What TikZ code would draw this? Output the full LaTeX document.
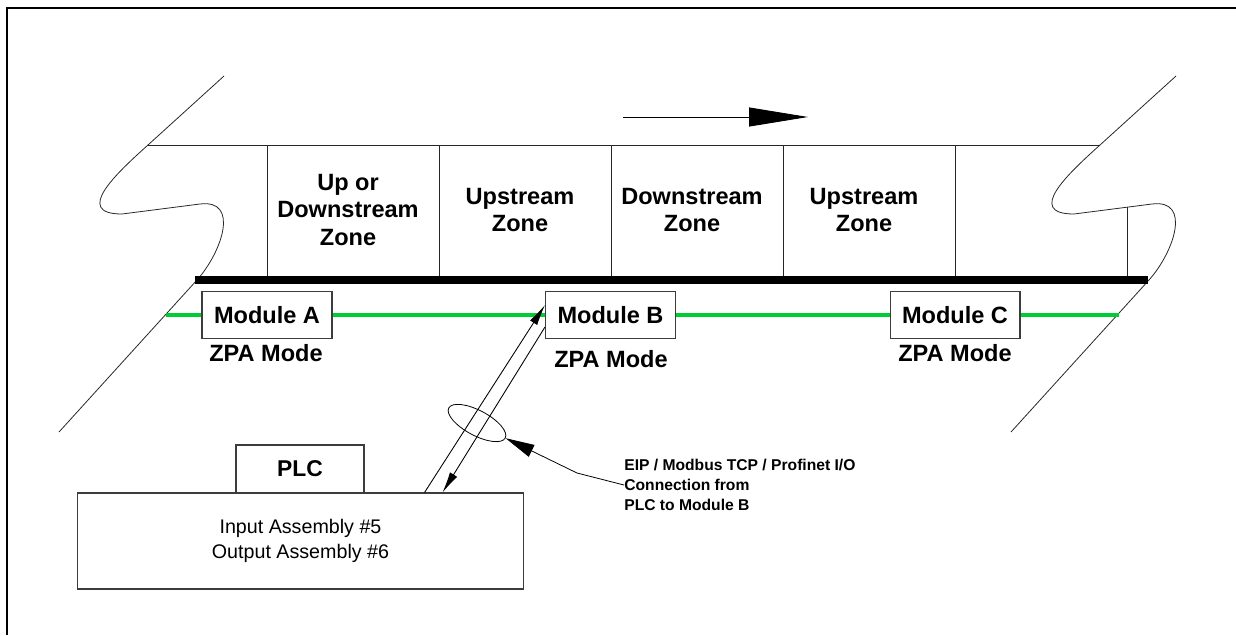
\documentclass[tikz,border=0pt]{standalone}
\usepackage{fontspec}
\setmainfont{Liberation Sans}
\usetikzlibrary{arrows.meta, shapes.geometric, calc}
\definecolor{wire}{HTML}{00CC33}
\definecolor{edge}{HTML}{3C3C3C}
\tikzset{
  >=Latex,
  box/.style={
    draw=edge, fill=white, line width=0.6pt, inner sep=0pt
  },
  module/.style={
    box, minimum width=2.6cm, minimum height=0.94cm,
    font=\fontsize{13.4}{16}\selectfont\bfseries
  },
  zone/.style={align=center, font=\fontsize{13.4}{15.9}\selectfont\bfseries},
  mode/.style={font=\fontsize{13.4}{16}\selectfont\bfseries},
  rail/.style={line width=0.45pt, draw=black!85},
  bus/.style={line width=2.2pt, draw=wire},
  bar/.style={line width=4.8pt, line cap=butt},
  link/.style={line width=0.5pt, -{Latex[length=4.2mm,width=1.7mm]}},
  callout/.style={line width=0.45pt, -{Triangle[length=5.8mm,width=2.6mm]}},
  note/.style={align=left, inner sep=0pt, font=\fontsize{8.9}{11.4}\selectfont\bfseries}
}

\begin{document}
\begin{tikzpicture}[x=0.02cm, y=-0.02cm]
  \useasboundingbox (0,0) rectangle (1236,635);
  \draw[line width=1.4pt] (7,635) -- (7,8) -- (1236,8);

  % conveyor ends
  \draw[rail] (224,76) -- (148,145) .. controls (118,172) and (72,214) .. (122,214)
    -- (200,204) .. controls (240,199) and (222,252) .. (197,280) -- (59,432);
  \draw[rail, shift={(952,0)}] (224,76) -- (148,145) .. controls (118,172) and (72,214) .. (122,214)
    -- (200,204) .. controls (240,199) and (222,252) .. (197,280) -- (59,432);

  % zones
  \draw[rail] (148,145) -- (1100,145);
  \draw[rail] (267,145) -- (267,276) (439,145) -- (439,276) (611,145) -- (611,276)
    (783,145) -- (783,276) (955,145) -- (955,276) (1127,207) -- (1127,276);
  \draw[bar] (195,280) -- (1148,280);
  \node[zone] (z1) at (348,210) {Up or\\Downstream\\Zone};
  \node[zone] (z2) at (520,210) {Upstream\\Zone};
  \node[zone] (z3) at (692,210) {Downstream\\Zone};
  \node[zone] (z4) at (864,210) {Upstream\\Zone};

  \coordinate (flowS) at (623,117);
  \coordinate (flowE) at (808,117);
  \draw[line width=0.5pt, -{Triangle[length=1.18cm,width=0.38cm]}] (flowS) -- (flowE);

  % modules on the network
  \node[module] (modA) at (267,315) {Module A};
  \node[module] (modB) at (610.5,315) {Module B};
  \node[module] (modC) at (955,315) {Module C};
  \coordinate (busL) at (166,315);
  \coordinate (busR) at (1119,315);
  \draw[bus] (busL) -- (modA) (modA) -- (modB) (modB) -- (modC) (modC) -- (busR);
  \node[mode] (zpaA) at (266,353) {ZPA Mode};
  \node[mode] (zpaB) at (611,359) {ZPA Mode};
  \node[mode] (zpaC) at (955,353) {ZPA Mode};

  % PLC
  \node[box, minimum width=2.56cm, minimum height=0.96cm,
    font=\fontsize{13}{16}\selectfont\bfseries] (plc) at (300,469) {PLC};
  \node[box, minimum width=8.94cm, minimum height=1.92cm, align=center,
    font=\fontsize{11.2}{14.2}\selectfont] (ctrl) at (300.5,541)
    {Input Assembly \#5\\Output Assembly \#6};

  \coordinate (plcUp) at ($(ctrl.north west)+(348,0)$);
  \coordinate (plcDown) at ($(ctrl.north west)+(366,0)$);
  \coordinate (bUp) at ($(modB.west)+(0,-10)$);
  \coordinate (bDown) at ($(modB.west)+(0,12)$);
  \draw[link] (plcUp) -- (bUp);
  \draw[link] (bDown) -- (plcDown);

  \node[draw, ellipse, rotate=-28, line width=0.45pt, inner sep=0pt,
    minimum width=1.28cm, minimum height=0.5cm] (loop) at (477,423) {};
  \node[note, anchor=west] (note) at (624,485)
    {EIP / Modbus TCP / Profinet I/O\\Connection from\\PLC to Module B};
  \coordinate (kink) at (577,473);
  \draw[callout] (note.west) -- (kink) -- (loop.east);
\end{tikzpicture}
\end{document}
